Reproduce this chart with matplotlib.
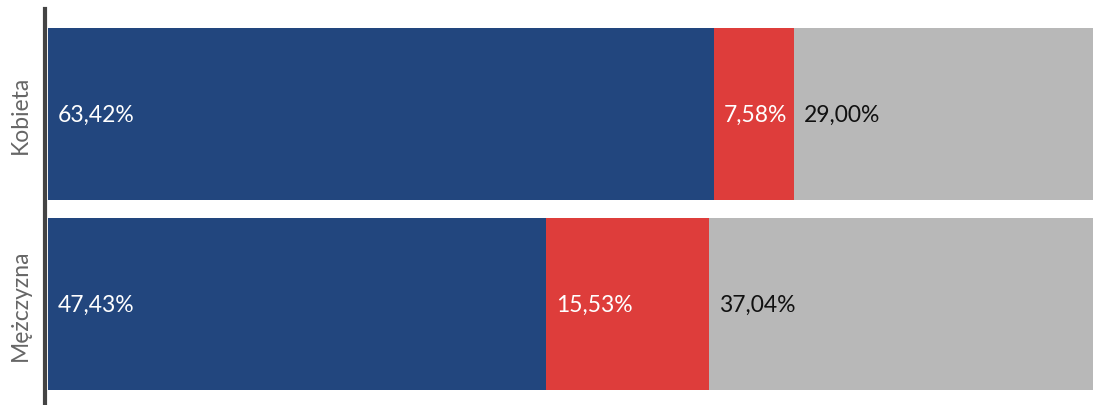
import matplotlib
matplotlib.use("Agg")
from matplotlib import pyplot as plt
from matplotlib.transforms import offset_copy

kategorie = ["Kobieta", "Mężczyzna"]
niebieski = [63.42, 47.43]
czerwony = [7.58, 15.53]
szary = [29.00, 37.04]
serie = [niebieski, czerwony, szary]
kolory = ["#22467e", "#de3d3b", "#b8b8b8"]
kolory_tekstu = ["white", "white", "#111111"]

plt.rcParams['font.family'] = ['Lato', 'DejaVu Sans']

fig = plt.figure(figsize=(10.93, 4.06), dpi=100)
# pasek 100% wychodzi nieco poza prawy brzeg, jak w oryginale
ax = fig.add_axes([48 / 1093, 0, 1050 / 1093, 396 / 406])

ax.spines['left'].set_position(('outward', 2))
ax.spines['left'].set_color('#444444')
ax.spines['left'].set_linewidth(3)
for s in ['top', 'right', 'bottom']:
    ax.spines[s].set_visible(False)

y = list(range(len(kategorie)))
lewo = [0] * len(kategorie)
for wartosci, kolor, kt in zip(serie, kolory, kolory_tekstu):
    ax.barh(y, wartosci, left=lewo, height=0.905, color=kolor)
    trans = offset_copy(ax.transData, fig=fig, x=10, y=0, units='dots')
    for yi, l, w in zip(y, lewo, wartosci):
        ax.text(l, yi, f"{w:.2f}%".replace(".", ","), color=kt, fontsize=16.5,
                va='center', ha='left', transform=trans)
    lewo = [a + b for a, b in zip(lewo, wartosci)]

ax.set_xlim(0, 100)
ax.set_ylim(1.532, -0.553)
ax.set_yticks(y)
ax.set_yticklabels(kategorie, rotation=90, va='center', fontsize=16.5,
                   color='#666666')
ax.tick_params(axis='y', length=0, pad=10)
ax.set_xticks([])

fig.savefig("out.png", dpi=100)
